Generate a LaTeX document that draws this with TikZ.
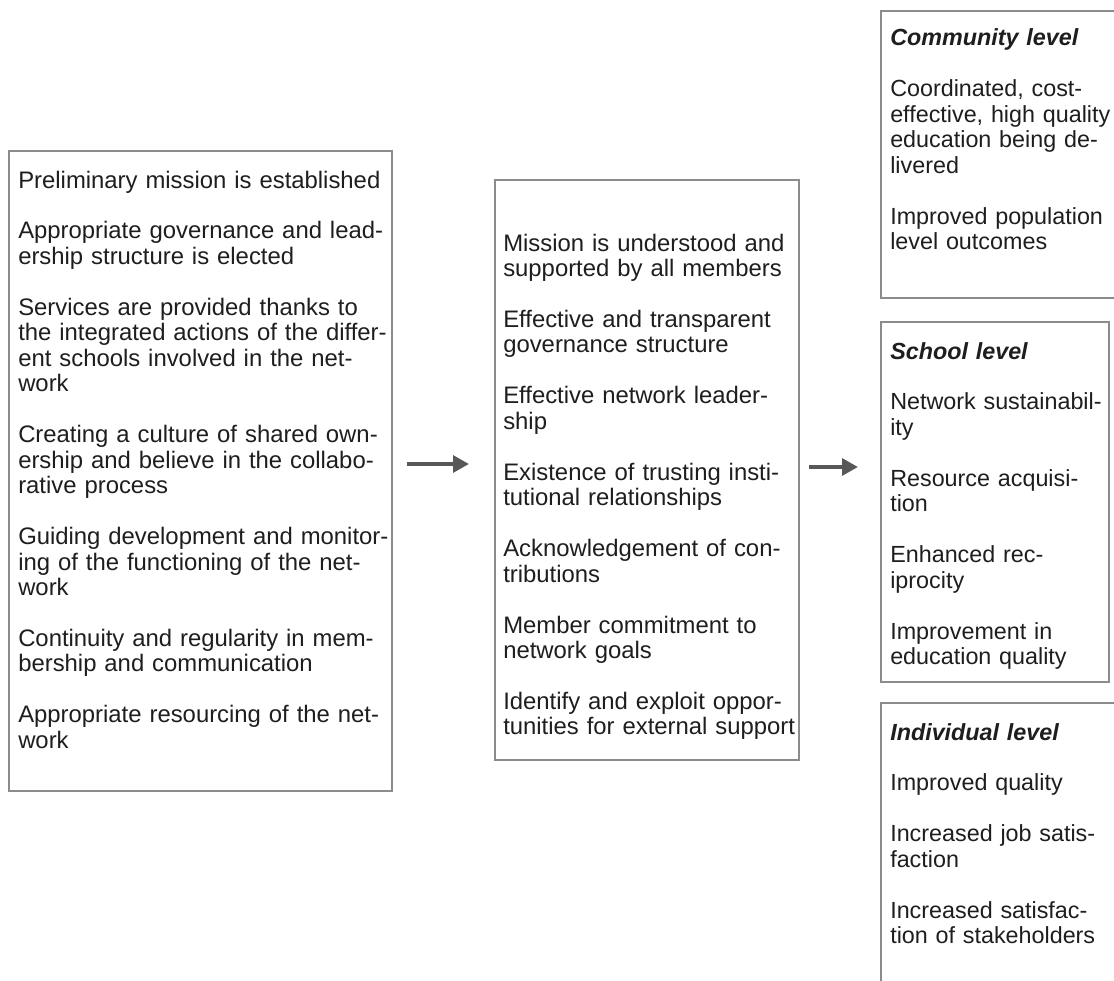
\documentclass[tikz,border=0pt]{standalone}
\usepackage{fontspec}
\setmainfont{Liberation Sans}
\usetikzlibrary{arrows.meta}
\definecolor{boxgray}{HTML}{8C8C8C}
\definecolor{arrowgray}{HTML}{585858}
\definecolor{ink}{HTML}{1E1E1E}
\begin{document}
\begin{tikzpicture}[x=0.75pt,y=-0.75pt,
  box/.style={draw=boxgray,line width=1.9pt,inner sep=0pt,outer sep=0pt,anchor=north west},
  txt/.style={anchor=base west,inner sep=0pt,text width=#1,align=left,
    font=\fontsize{17.9pt}{19.1pt}\selectfont,text=ink},
  rtxt/.style={txt=#1,font=\fontsize{17.5pt}{19.1pt}\selectfont},
  flow/.style={draw=arrowgray,line width=3.6pt,-{Triangle[length=12pt,width=12.5pt]}}]
\useasboundingbox (0,0) rectangle (1114,981);
\clip (0,0) rectangle (1114,981);
\fill[white] (0,0) rectangle (1114,981);

% boxes
\node[box,minimum width=287.25pt,minimum height=480pt] (L) at (9,151) {};
\node[box,minimum width=228pt,minimum height=435pt] (M) at (495,180) {};
\node[box,minimum width=195pt,minimum height=215.25pt] (C) at (881,11) {};
\node[box,minimum width=171pt,minimum height=270pt] (S) at (881,322) {};
\node[box,minimum width=195pt,minimum height=240pt] (I) at (881,703) {};

% texts
\node[txt=300pt] (Lt) at (18,188) {Preliminary mission is established\\[19.1pt]
Appropriate governance and lead-\\ership structure is elected\\[19.1pt]
Services are provided thanks to\\the integrated actions of the differ-\\ent schools involved in the net-\\work\\[19.1pt]
Creating a culture of shared own-\\ership and believe in the collabo-\\rative process\\[19.1pt]
Guiding development and monitor-\\ing of the functioning of the net-\\work\\[19.1pt]
Continuity and regularity in mem-\\bership and communication\\[19.1pt]
Appropriate resourcing of the net-\\work};

\node[txt=240pt] (Mt) at (503,251) {Mission is understood and\\supported by all members\\[19.1pt]
Effective and transparent\\governance structure\\[19.1pt]
Effective network leader-\\ship\\[19.1pt]
Existence of trusting insti-\\tutional relationships\\[19.1pt]
Acknowledgement of con-\\tributions\\[19.1pt]
Member commitment to\\network goals\\[19.1pt]
Identify and exploit oppor-\\tunities for external support};

\node[rtxt=190pt] (Ct) at (890,46) {\textbf{\textit{Community level}}\\[19.1pt]
Coordinated, cost-\\effective, high quality\\education being de-\\livered\\[19.1pt]
Improved population\\level outcomes};

\node[rtxt=190pt] (St) at (890,359) {\textbf{\textit{School level}}\\[19.1pt]
Network sustainabil-\\ity\\[19.1pt]
Resource acquisi-\\tion\\[19.1pt]
Enhanced rec-\\iprocity\\[19.1pt]
Improvement in\\education quality};

\node[rtxt=190pt] (It) at (890,740) {\textbf{\textit{Individual level}}\\[19.1pt]
Improved quality\\[19.1pt]
Increased job satis-\\faction\\[19.1pt]
Increased satisfac-\\tion of stakeholders};

% arrows
\coordinate (a1s) at (407,464);
\coordinate (a1e) at (469,464);
\coordinate (a2s) at (809,467);
\coordinate (a2e) at (858,467);
\draw[flow] (a1s) -- (a1e);
\draw[flow] (a2s) -- (a2e);
\end{tikzpicture}
\end{document}
